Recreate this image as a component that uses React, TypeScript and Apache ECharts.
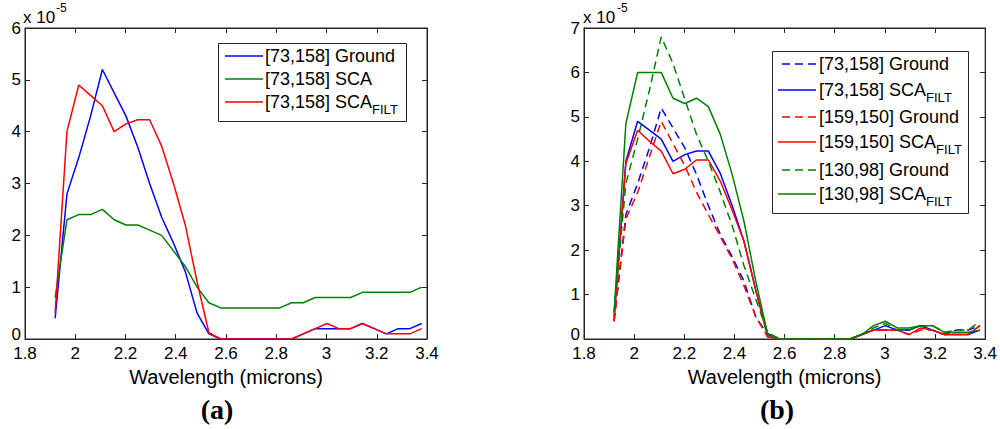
import React, { useEffect, useRef } from "react";
import * as echarts from "echarts";

// Wavelength samples (microns)
const wavelength = [
  1.92, 1.967, 2.014, 2.061, 2.108, 2.155, 2.202, 2.249, 2.296, 2.344, 2.391,
  2.438, 2.485, 2.532, 2.579, 2.626, 2.673, 2.72, 2.767, 2.814, 2.861, 2.908,
  2.955, 3.002, 3.049, 3.096, 3.143, 3.19, 3.238, 3.285, 3.332, 3.379,
];

// Values in units of 1e-5
const ground73 = [
  0.4, 2.8, 3.5, 4.3, 5.2, 4.75, 4.3, 3.7, 3.0, 2.35, 1.85, 1.3, 0.5, 0.1, 0, 0,
  0, 0, 0, 0, 0, 0.1, 0.2, 0.2, 0.2, 0.2, 0.3, 0.2, 0.1, 0.2, 0.2, 0.3,
];
const sca73 = [
  0.8, 2.3, 2.4, 2.4, 2.5, 2.3, 2.2, 2.2, 2.1, 2.0, 1.7, 1.4, 1.0, 0.7, 0.6, 0.6,
  0.6, 0.6, 0.6, 0.6, 0.7, 0.7, 0.8, 0.8, 0.8, 0.8, 0.9, 0.9, 0.9, 0.9, 0.9, 1.0,
];
const scaFilt73 = [
  0.5, 4.0, 4.9, 4.7, 4.5, 4.0, 4.15, 4.23, 4.23, 3.72, 3.0, 2.2, 1.1, 0.12, 0, 0,
  0, 0, 0, 0, 0, 0.1, 0.2, 0.3, 0.2, 0.2, 0.3, 0.2, 0.1, 0.1, 0.1, 0.2,
];
const ground159 = [
  0.4, 2.7, 3.3, 4.1, 4.9, 4.4, 3.9, 3.3, 2.8, 2.3, 1.8, 1.2, 0.5, 0.05, 0, 0,
  0, 0, 0, 0, 0, 0.1, 0.2, 0.2, 0.2, 0.1, 0.2, 0.2, 0.1, 0.1, 0.1, 0.3,
];
const scaFilt159 = [
  0.4, 3.95, 4.7, 4.45, 4.23, 3.72, 3.82, 4.03, 4.03, 3.55, 2.9, 2.2, 1.1, 0.05,
  0, 0, 0, 0, 0, 0, 0, 0.1, 0.2, 0.2, 0.2, 0.1, 0.25, 0.2, 0.1, 0.1, 0.1, 0.3,
];
const ground130 = [
  0.6, 3.5, 4.5, 5.6, 6.8, 6.2, 5.4, 4.6, 4.0, 3.3, 2.55, 1.65, 0.9, 0.15, 0, 0,
  0, 0, 0, 0, 0, 0.1, 0.25, 0.35, 0.2, 0.2, 0.3, 0.3, 0.15, 0.2, 0.2, 0.4,
];
const scaFilt130 = [
  0.6, 4.85, 6.0, 6.0, 6.0, 5.42, 5.3, 5.42, 5.23, 4.6, 3.7, 2.65, 1.3, 0.12, 0,
  0, 0, 0, 0, 0, 0, 0.1, 0.3, 0.4, 0.25, 0.25, 0.3, 0.3, 0.15, 0.15, 0.15, 0.2,
];

const xTickMin = 1.8;
const xTickMax = 3.4;
const xTickStep = 0.2;
const yMaxLeft = 6;
const yMaxRight = 7;

const FONT = '"Liberation Sans", Arial, Helvetica, sans-serif';
const SERIF = '"Liberation Serif", "Times New Roman", serif';
const BLUE = "#0000ff";
const GREEN = "#008000";
const RED = "#ff0000";
const AX = "#262626";
const DASH = [8, 5];
const LEG_SIZE = 18;
const SUB_SIZE = 13;

const toPairs = (vals: number[]) => wavelength.map((w, i) => [w, vals[i]]);

function xAxisFor(grid: number, pos: "bottom" | "top") {
  const bottom = pos === "bottom";
  return {
    type: "value",
    gridIndex: grid,
    position: pos,
    min: xTickMin,
    max: xTickMax,
    interval: xTickStep,
    axisLine: { show: true, onZero: false, lineStyle: { color: AX, width: 1 } },
    axisTick: { show: true, inside: true, length: 5, lineStyle: { color: AX } },
    axisLabel: {
      show: bottom,
      fontSize: 17,
      lineHeight: 13,
      color: "#000",
      fontFamily: FONT,
      margin: 8,
      showMinLabel: true,
      showMaxLabel: true,
      formatter: (v: number) => String(+v.toFixed(1)),
    },
    splitLine: { show: false },
    name: bottom ? "Wavelength (microns)" : "",
    nameLocation: "middle",
    nameGap: 23,
    nameTextStyle: { fontSize: 20, color: "#000", fontFamily: FONT },
  };
}

function yAxisFor(grid: number, pos: "left" | "right", max: number) {
  const left = pos === "left";
  return {
    type: "value",
    gridIndex: grid,
    position: pos,
    min: 0,
    max,
    interval: 1,
    axisLine: { show: true, onZero: false, lineStyle: { color: AX, width: 1 } },
    axisTick: { show: true, inside: true, length: 5, lineStyle: { color: AX } },
    axisLabel: {
      show: left,
      fontSize: 17,
      lineHeight: 12,
      color: "#000",
      fontFamily: FONT,
      margin: 4,
      showMinLabel: true,
      showMaxLabel: true,
      formatter: (v: number) => (v === 0 ? "{z|0}" : String(v)),
      rich: {
        z: { fontSize: 17, lineHeight: 12, padding: [0, 0, 10, 0], color: "#000", fontFamily: FONT },
      },
    },
    splitLine: { show: false },
  };
}

function line(name: string, vals: number[], color: string, dashed: boolean, grid: number) {
  return {
    type: "line",
    name,
    xAxisIndex: grid * 2,
    yAxisIndex: grid * 2,
    data: toPairs(vals),
    symbol: "none",
    lineStyle: { color, width: 1.5, type: dashed ? DASH : "solid" },
    itemStyle: { color },
  };
}

function measure(text: string, size: number) {
  const c = document.createElement("canvas").getContext("2d");
  if (!c) return text.length * size * 0.55;
  c.font = `${size}px ${FONT}`;
  return c.measureText(text).width;
}

function textEl(x: number, y: number, text: string, size: number, family: string, weight = "normal", align = "left") {
  return {
    type: "text",
    z: 100,
    x,
    y,
    style: {
      text,
      fill: "#000",
      fontSize: size,
      fontFamily: family,
      fontWeight: weight,
      align,
      verticalAlign: "middle",
    },
  };
}

function legendRow(x1: number, x2: number, tx: number, cy: number, color: string, dashed: boolean, label: string, sub: boolean) {
  const els: any[] = [
    {
      type: "line",
      z: 100,
      shape: { x1, y1: cy, x2, y2: cy },
      style: { stroke: color, lineWidth: 1.5, lineDash: dashed ? DASH : null },
    },
    textEl(tx, cy, label, LEG_SIZE, FONT),
  ];
  if (sub) {
    els.push(textEl(tx + measure(label, LEG_SIZE), cy + 7, "FILT", SUB_SIZE, FONT));
  }
  return els;
}

export default function App() {
  const ref = useRef<HTMLDivElement>(null);
  useEffect(() => {
    if (!ref.current) return;
    const chart = echarts.init(ref.current, null, { renderer: "svg" });
    const gridCommon = { show: true, borderColor: AX, borderWidth: 1, backgroundColor: "#fff" };
    const graphic: any[] = [
      // left legend
      {
        type: "rect",
        z: 99,
        shape: { x: 218.5, y: 43.5, width: 188, height: 78 },
        style: { fill: "#fff", stroke: AX, lineWidth: 1 },
      },
      ...legendRow(225, 263, 265, 56, BLUE, false, "[73,158] Ground", false),
      ...legendRow(225, 263, 265, 79, GREEN, false, "[73,158] SCA", false),
      ...legendRow(225, 263, 265, 102, RED, false, "[73,158] SCA", true),
      // right legend
      {
        type: "rect",
        z: 99,
        shape: { x: 772.5, y: 51.5, width: 196, height: 162 },
        style: { fill: "#fff", stroke: AX, lineWidth: 1 },
      },
      ...legendRow(782, 817, 819, 64, BLUE, true, "[73,158] Ground", false),
      ...legendRow(778, 816, 819, 90, BLUE, false, "[73,158] SCA", true),
      ...legendRow(782, 817, 819, 117, RED, true, "[159,150] Ground", false),
      ...legendRow(778, 816, 819, 142, RED, false, "[159,150] SCA", true),
      ...legendRow(782, 817, 819, 170, GREEN, true, "[130,98] Ground", false),
      ...legendRow(778, 816, 819, 194, GREEN, false, "[130,98] SCA", true),
      // exponent labels
      textEl(23, 17, "x 10", 17, FONT),
      textEl(56, 8, "-5", 12, FONT),
      textEl(583, 17, "x 10", 17, FONT),
      textEl(617, 8, "-5", 12, FONT),
      // panel titles
      textEl(217, 409, "(a)", 28, SERIF, "bold", "center"),
      textEl(777, 409, "(b)", 28, SERIF, "bold", "center"),
    ];
    chart.setOption({
      animation: false,
      backgroundColor: "#fff",
      grid: [
        { ...gridCommon, left: 25, top: 28, width: 402, height: 311 },
        { ...gridCommon, left: 584, top: 28, width: 403, height: 311 },
      ],
      xAxis: [xAxisFor(0, "bottom"), xAxisFor(0, "top"), xAxisFor(1, "bottom"), xAxisFor(1, "top")],
      yAxis: [
        yAxisFor(0, "left", yMaxLeft),
        yAxisFor(0, "right", yMaxLeft),
        yAxisFor(1, "left", yMaxRight),
        yAxisFor(1, "right", yMaxRight),
      ],
      series: [
        line("[73,158] Ground", ground73, BLUE, false, 0),
        line("[73,158] SCA", sca73, GREEN, false, 0),
        line("[73,158] SCA FILT", scaFilt73, RED, false, 0),
        line("[73,158] Ground (b)", ground73, BLUE, true, 1),
        line("[73,158] SCA FILT (b)", scaFilt73, BLUE, false, 1),
        line("[159,150] Ground", ground159, RED, true, 1),
        line("[159,150] SCA FILT", scaFilt159, RED, false, 1),
        line("[130,98] Ground", ground130, GREEN, true, 1),
        line("[130,98] SCA FILT", scaFilt130, GREEN, false, 1),
      ],
      graphic,
    });
    return () => chart.dispose();
  }, []);
  return (
    <div
      ref={ref}
      style={{ position: "absolute", left: 0, top: 0, width: 1000, height: 429 }}
    />
  );
}
